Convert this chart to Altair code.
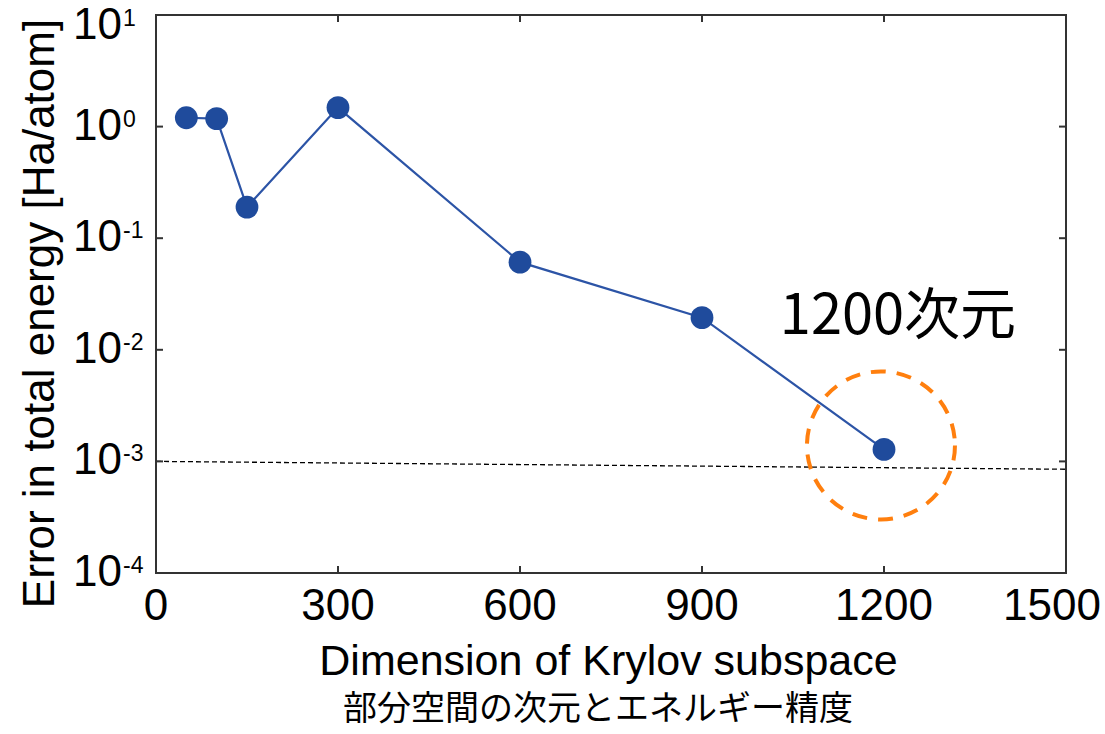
import altair as alt
import pandas as pd

# Convergence of the total-energy error with the Krylov subspace dimension
dims = [50, 100, 150, 300, 600, 900, 1200]
errors = [1.2, 1.18, 0.19, 1.48, 0.061, 0.0194, 0.00128]

# Reference accuracy line (dashed)
ref_x = [0, 1500]
ref_y = [1.0e-3, 8.5e-4]

# Axis ticks
x_ticks = [0, 300, 600, 900, 1200, 1500]
y_ticks = [10, 1, 0.1, 0.01, 0.001, 0.0001]
y_exps = ["1", "0", "-1", "-2", "-3", "-4"]

# Highlighted point and its note
ring_x = [1195]
ring_y = [0.00139]
note_x = [1223]
note_y = [0.0139]
note_text = ["1200次元"]

subtitle = "部分空間の次元とエネルギー精度"

W, H = 910, 558
NARROW = "Liberation Sans Narrow, Arial Narrow, Liberation Sans, sans-serif"
CJK = "Noto Sans CJK JP"
FRAME = "#333333"

xs = alt.Scale(domain=[0, 1500], nice=False, zero=False)
ys = alt.Scale(type="log", domain=[1e-4, 10], nice=False)

x_axis = alt.Axis(
    title="Dimension of Krylov subspace", labels=False, ticks=False, domain=False, grid=False,
    titleFont=NARROW, titleFontSize=43, titleFontWeight="normal", titleColor="black",
    titleX=W / 2 - 3, titleY=101, titleBaseline="alphabetic", titleAlign="center",
)
y_axis = alt.Axis(
    title="Error in total energy [Ha/atom]", labels=False, ticks=False, domain=False, grid=False,
    titleFont=NARROW, titleFontSize=44, titleFontWeight="normal", titleColor="black",
    titleX=-116, titleY=298, titleBaseline="middle", titleAlign="center", titleAngle=270,
)

X = lambda f: alt.X(f, type="quantitative", scale=xs, axis=x_axis)
Y = lambda f: alt.Y(f, type="quantitative", scale=ys, axis=y_axis)

series = pd.DataFrame({"dim": dims, "err": errors})
ref = pd.DataFrame({"dim": ref_x, "err": ref_y})
ring = pd.DataFrame({"dim": ring_x, "err": ring_y})
note = pd.DataFrame({"dim": note_x, "err": note_y, "t": note_text})
xt = pd.DataFrame({"v": x_ticks})
yt = pd.DataFrame({"v": y_ticks, "e": y_exps})

ref_line = alt.Chart(ref).mark_line(color="black", strokeWidth=1.3, strokeDash=[5, 3]).encode(
    x=X("dim"), y=Y("err"))

line = alt.Chart(series).mark_line(color="#2c54a6", strokeWidth=2.2).encode(x=X("dim"), y=Y("err"))
points = alt.Chart(series).mark_point(filled=True, shape="circle", size=520, color="#1f4b9c", opacity=1).encode(
    x=X("dim"), y=Y("err"))

ring_mark = alt.Chart(ring).mark_point(
    shape="circle", filled=False, size=148 * 148, stroke="#ff7f0e", strokeWidth=4,
    strokeDash=[15, 11], opacity=1).encode(x=X("dim"), y=Y("err"))

note_mark = alt.Chart(note).mark_text(font=CJK, fontSize=56, color="black", align="center",
                                      baseline="alphabetic").encode(x=X("dim"), y=Y("err"), text="t:N")

# Inward ticks on all four sides
inner_y = alt.Chart(yt).transform_filter("datum.v < 10 && datum.v > 0.0001")
tick_l = inner_y.mark_rule(color=FRAME, strokeWidth=2).encode(y=Y("v"), x=alt.value(0), x2=alt.value(7))
tick_r = inner_y.mark_rule(color=FRAME, strokeWidth=2).encode(y=Y("v"), x=alt.value(W), x2=alt.value(W - 7))
inner_x = alt.Chart(xt).transform_filter("datum.v > 0 && datum.v < 1500")
tick_b = inner_x.mark_rule(color=FRAME, strokeWidth=2).encode(x=X("v"), y=alt.value(H), y2=alt.value(H - 7))
tick_t = inner_x.mark_rule(color=FRAME, strokeWidth=2).encode(x=X("v"), y=alt.value(0), y2=alt.value(7))

# Tick labels
xlab = alt.Chart(xt).transform_filter("datum.v < 1500").mark_text(
    font=NARROW, fontSize=44, color="black", baseline="top").encode(
    x=X("v"), y=alt.value(H + 12), text=alt.Text("v:Q", format="d"))
xlab_end = alt.Chart(xt).transform_filter("datum.v == 1500").mark_text(
    font=NARROW, fontSize=44, color="black", baseline="top", dx=-14).encode(
    x=X("v"), y=alt.value(H + 12), text=alt.Text("v:Q", format="d"))

ylab = alt.Chart(yt).transform_filter("datum.v < 10").mark_text(
    font=NARROW, fontSize=44, color="black", align="right", baseline="middle").encode(
    y=Y("v"), x=alt.value(-34), text=alt.value("10"))
ylab_top = alt.Chart(yt).transform_filter("datum.v == 10").mark_text(
    font=NARROW, fontSize=44, color="black", align="right", baseline="middle", dy=11).encode(
    y=Y("v"), x=alt.value(-34), text=alt.value("10"))
yexp = alt.Chart(yt).transform_filter("datum.v < 10").mark_text(
    font=NARROW, fontSize=23, color="black", align="left", baseline="middle", dy=-7).encode(
    y=Y("v"), x=alt.value(-33), text="e:N")
yexp_top = alt.Chart(yt).transform_filter("datum.v == 10").mark_text(
    font=NARROW, fontSize=23, color="black", align="left", baseline="middle", dy=4).encode(
    y=Y("v"), x=alt.value(-33), text="e:N")

sub = alt.Chart(note).mark_text(font=CJK, fontSize=34, color="black", align="center",
                                baseline="middle").encode(
    x=alt.value(W / 2 - 13), y=alt.value(H + 137), text=alt.value(subtitle))

chart = alt.layer(
    ref_line, line, points, ring_mark, note_mark,
    tick_l, tick_r, tick_b, tick_t,
    xlab, xlab_end, ylab, ylab_top, yexp, yexp_top, sub,
).properties(
    width=W, height=H,
    autosize=alt.AutoSizeParams(type="none"),
    padding={"left": 156, "top": 15, "right": 1105 - 156 - W, "bottom": 734 - 15 - H},
    background="white",
).configure_view(stroke=FRAME, strokeWidth=2)

chart.save("out.html", embed_options={"renderer": "svg", "actions": False})
